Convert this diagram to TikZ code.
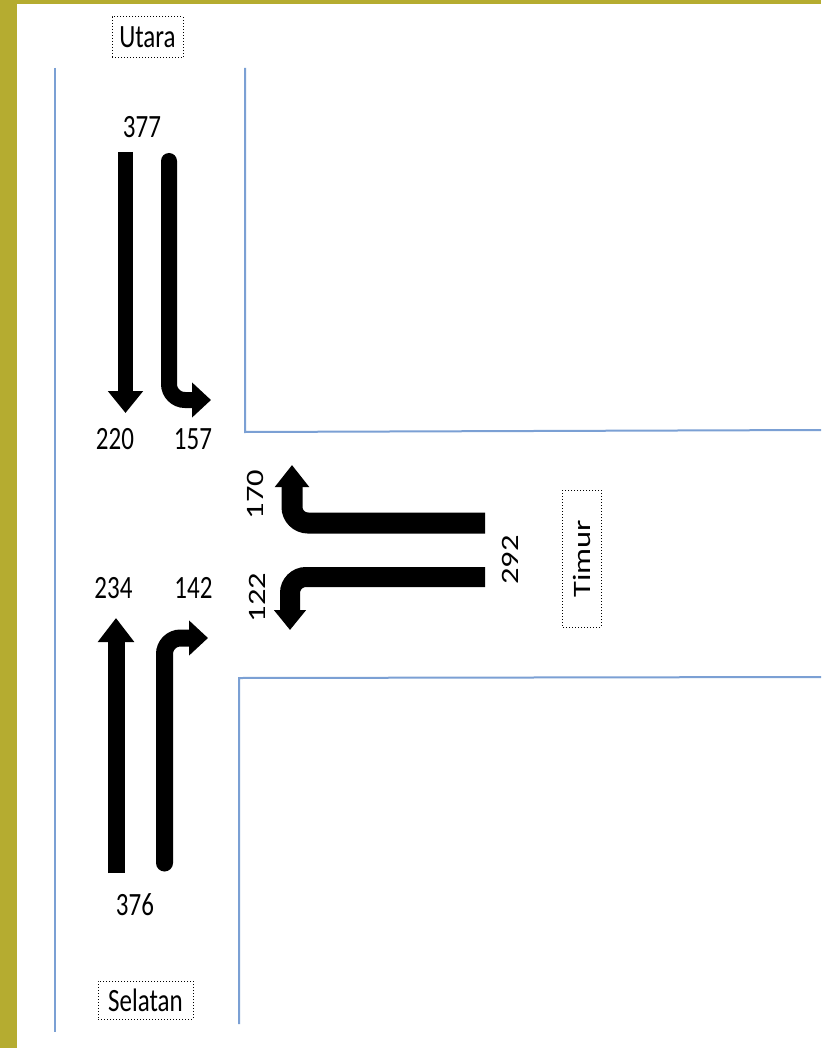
\documentclass[tikz,border=0pt]{standalone}
\usepackage{fontspec}
\setmainfont{Carlito}
\usetikzlibrary{arrows.meta}
\definecolor{olive}{RGB}{181,172,48}
\definecolor{roadblue}{RGB}{123,160,212}
\newcommand{\ys}[1]{\scalebox{1}[1.3]{#1}}
\newcommand{\xs}[1]{\scalebox{1.3}[1]{#1}}
\tikzset{
  road/.style={draw=roadblue, line width=2pt},
  flow/.style={draw=black, line width=#1, rounded corners=16pt},
  flow/.default=17pt,
  tipA/.style={-{Triangle[width=34pt,length=22pt]}},
  lbl/.style={font=\fontsize{25}{27}\selectfont, inner sep=0pt},
  dbox/.style={draw=black, dotted, line width=1pt, inner sep=0pt, font=\fontsize{25}{27}\selectfont}
}
\begin{document}
\begin{tikzpicture}[x=1pt,y=-1pt]
\useasboundingbox (0,0) rectangle (821,1048);
\fill[white] (0,0) rectangle (821,1048);
\fill[olive] (0,0) rectangle (17,1048);
\fill[olive] (0,0) rectangle (821,4);
% roads
\coordinate (l1) at (55,68);
\coordinate (l2) at (55,1032);
\coordinate (u1) at (245,68);
\coordinate (u2) at (245,432);
\coordinate (u3) at (821,430);
\coordinate (b1) at (821,677);
\coordinate (b2) at (239,678);
\coordinate (b3) at (239,1024);
\draw[road] (l1) -- (l2);
\draw[road] (u1) -- (u2) -- (u3);
\draw[road] (b1) -- (b2) -- (b3);
% labels
\node[dbox, minimum width=71pt, minimum height=41pt] (utara) at (147.5,37.5) {\ys{Utara}};
\node[dbox, rotate=90, minimum width=137pt, minimum height=39pt] (timur) at (581.5,558.5) {\xs{Timur}};
\node[dbox, minimum width=95pt, minimum height=38pt] (selatan) at (145.5,1000) {\ys{Selatan}};
\node[lbl] (n377) at (142,127) {\ys{377}};
\node[lbl] (n220) at (115,439) {\ys{220}};
\node[lbl] (n157) at (193,439) {\ys{157}};
\node[lbl] (n234) at (113.5,588) {\ys{234}};
\node[lbl] (n142) at (193.5,588) {\ys{142}};
\node[lbl] (n376) at (135,905) {\ys{376}};
\node[lbl, rotate=90] (n170) at (255.5,494.5) {\xs{170}};
\node[lbl, rotate=90] (n122) at (257.5,597.5) {\xs{122}};
\node[lbl, rotate=90] (n292) at (510,560) {\xs{292}};
% north approach
\coordinate (ns1) at (125.5,152);
\coordinate (ns2) at (125.5,413);
\draw[flow=15pt, tipA] (ns1) -- (ns2);
\coordinate (nr1) at (169,161);
\coordinate (nr2) at (169,400);
\coordinate (nr3) at (211,400);
\draw[flow=16pt, line cap=round, -{Triangle[width=34pt,length=19pt]}] (nr1) -- (nr2) -- (nr3);
% east approach
\coordinate (eu1) at (485,523);
\coordinate (eu2) at (292,523);
\coordinate (eu3) at (292,465);
\draw[flow=21pt, -{Triangle[width=33pt,length=22pt]}] (eu1) -- (eu2) -- (eu3);
\coordinate (el1) at (485,577);
\coordinate (el2) at (290,577);
\coordinate (el3) at (290,630);
\draw[flow=20pt, -{Triangle[width=31pt,length=20pt]}] (el1) -- (el2) -- (el3);
% south approach
\coordinate (ss1) at (116,873);
\coordinate (ss2) at (116,618);
\draw[flow=17pt, -{Triangle[width=35pt,length=24pt]}] (ss1) -- (ss2);
\coordinate (sr1) at (164.5,863);
\coordinate (sr2) at (164.5,638);
\coordinate (sr3) at (208,638);
\draw[flow=17pt, line cap=round, -{Triangle[width=34pt,length=19pt]}] (sr1) -- (sr2) -- (sr3);
\end{tikzpicture}
\end{document}
